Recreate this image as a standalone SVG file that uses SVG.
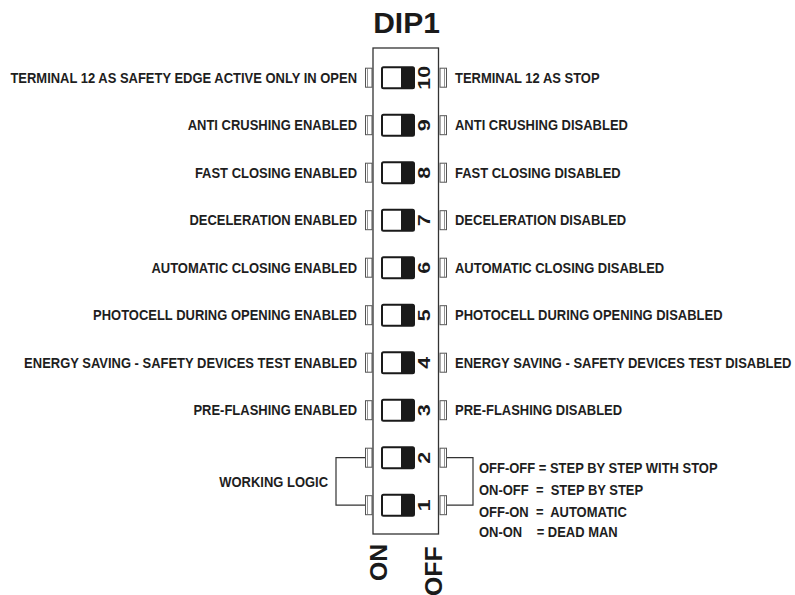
<svg xmlns="http://www.w3.org/2000/svg" width="795" height="595" viewBox="0 0 795 595">
<defs>
<style>
.lbl{font-family:"Liberation Sans",Arial,sans-serif;font-weight:bold;font-size:15px;fill:#1e1e1e}
.l{text-anchor:end}
.num{font-family:"Liberation Sans",Arial,sans-serif;font-weight:bold;font-size:16.5px;fill:#1a1a1a;text-anchor:middle}
.big{font-family:"Liberation Sans",Arial,sans-serif;font-weight:bold;fill:#1a1a1a}
.body{fill:#fff;stroke:#333;stroke-width:1.3}
.tab{fill:#fff;stroke:#555;stroke-width:1}
.sw{fill:#fff;stroke:#1a1a1a;stroke-width:2}
.knob{fill:#1a1a1a}
.wire{fill:none;stroke:#333;stroke-width:1.2}
</style>
<g id="switch">
<rect class="sw" x="382" y="-10.5" width="32" height="21" rx="1.5"/>
<rect class="knob" x="401" y="-10.5" width="13" height="21"/>
</g>
<g id="tabs">
<rect class="tab" x="365.5" y="-9.5" width="6.5" height="19"/>
<line x1="367.5" y1="-9.5" x2="367.5" y2="9.5" stroke="#777" stroke-width="0.8"/>
<rect class="tab" x="440" y="-9.5" width="6.5" height="19"/>
<line x1="444.5" y1="-9.5" x2="444.5" y2="9.5" stroke="#777" stroke-width="0.8"/>
</g>
</defs>

<text id="title" class="big" x="406.5" y="33" font-size="30" text-anchor="middle">DIP1</text>

<g id="dip-body">
<rect class="body" x="373" y="48" width="65.5" height="486"/>
</g>

<g id="connectors">
<path class="wire" d="M365.5 457.7 H336 V505.2 H365.5"/>
<path class="wire" d="M446.5 457.7 H473 V505.2 H446.5"/>
</g>

<g id="sw10" transform="translate(0,77.7)">
<use href="#tabs"/><use href="#switch"/>
<text class="num" transform="translate(430,0) rotate(-90) scale(1.3,1)">10</text>
</g>
<g id="sw9" transform="translate(0,125.2)">
<use href="#tabs"/><use href="#switch"/>
<text class="num" transform="translate(430,0) rotate(-90) scale(1.3,1)">9</text>
</g>
<g id="sw8" transform="translate(0,172.7)">
<use href="#tabs"/><use href="#switch"/>
<text class="num" transform="translate(430,0) rotate(-90) scale(1.3,1)">8</text>
</g>
<g id="sw7" transform="translate(0,220.2)">
<use href="#tabs"/><use href="#switch"/>
<text class="num" transform="translate(430,0) rotate(-90) scale(1.3,1)">7</text>
</g>
<g id="sw6" transform="translate(0,267.7)">
<use href="#tabs"/><use href="#switch"/>
<text class="num" transform="translate(430,0) rotate(-90) scale(1.3,1)">6</text>
</g>
<g id="sw5" transform="translate(0,315.2)">
<use href="#tabs"/><use href="#switch"/>
<text class="num" transform="translate(430,0) rotate(-90) scale(1.3,1)">5</text>
</g>
<g id="sw4" transform="translate(0,362.7)">
<use href="#tabs"/><use href="#switch"/>
<text class="num" transform="translate(430,0) rotate(-90) scale(1.3,1)">4</text>
</g>
<g id="sw3" transform="translate(0,410.2)">
<use href="#tabs"/><use href="#switch"/>
<text class="num" transform="translate(430,0) rotate(-90) scale(1.3,1)">3</text>
</g>
<g id="sw2" transform="translate(0,457.7)">
<use href="#tabs"/><use href="#switch"/>
<text class="num" transform="translate(430,0) rotate(-90) scale(1.3,1)">2</text>
</g>
<g id="sw1" transform="translate(0,505.2)">
<use href="#tabs"/><use href="#switch"/>
<text class="num" transform="translate(430,0) rotate(-90) scale(1.3,1)">1</text>
</g>

<g id="labels-left" transform="translate(357,0) scale(0.865,1)">
<text class="lbl l" x="0" y="83">TERMINAL 12 AS SAFETY EDGE ACTIVE ONLY IN OPEN</text>
<text class="lbl l" x="0" y="130.5">ANTI CRUSHING ENABLED</text>
<text class="lbl l" x="0" y="178">FAST CLOSING ENABLED</text>
<text class="lbl l" x="0" y="225.5">DECELERATION ENABLED</text>
<text class="lbl l" x="0" y="273">AUTOMATIC CLOSING ENABLED</text>
<text class="lbl l" x="0" y="320.5">PHOTOCELL DURING OPENING ENABLED</text>
<text class="lbl l" x="0" y="368">ENERGY SAVING - SAFETY DEVICES TEST ENABLED</text>
<text class="lbl l" x="0" y="415.5">PRE-FLASHING ENABLED</text>
<text class="lbl l" x="-33.5" y="487">WORKING LOGIC</text>
</g>

<g id="labels-right" transform="translate(455,0) scale(0.865,1)">
<text class="lbl" x="0" y="83">TERMINAL 12 AS STOP</text>
<text class="lbl" x="0" y="130.5">ANTI CRUSHING DISABLED</text>
<text class="lbl" x="0" y="178">FAST CLOSING DISABLED</text>
<text class="lbl" x="0" y="225.5">DECELERATION DISABLED</text>
<text class="lbl" x="0" y="273">AUTOMATIC CLOSING DISABLED</text>
<text class="lbl" x="0" y="320.5">PHOTOCELL DURING OPENING DISABLED</text>
<text class="lbl" x="0" y="368">ENERGY SAVING - SAFETY DEVICES TEST DISABLED</text>
<text class="lbl" x="0" y="415.5">PRE-FLASHING DISABLED</text>
</g>

<g id="logic-legend" transform="translate(479,0) scale(0.865,1)">
<text class="lbl" x="0" y="473" xml:space="preserve">OFF-OFF = STEP BY STEP WITH STOP</text>
<text class="lbl" x="0" y="495" xml:space="preserve">ON-OFF  =  STEP BY STEP</text>
<text class="lbl" x="0" y="517" xml:space="preserve">OFF-ON  =  AUTOMATIC</text>
<text class="lbl" x="0" y="537.5" xml:space="preserve">ON-ON    = DEAD MAN</text>
</g>

<g id="on-off">
<text class="big" font-size="23" transform="translate(386.5,581) rotate(-90) scale(1.08,1)">ON</text>
<text class="big" font-size="23" transform="translate(442,596) rotate(-90) scale(1.08,1)">OFF</text>
</g>
</svg>
